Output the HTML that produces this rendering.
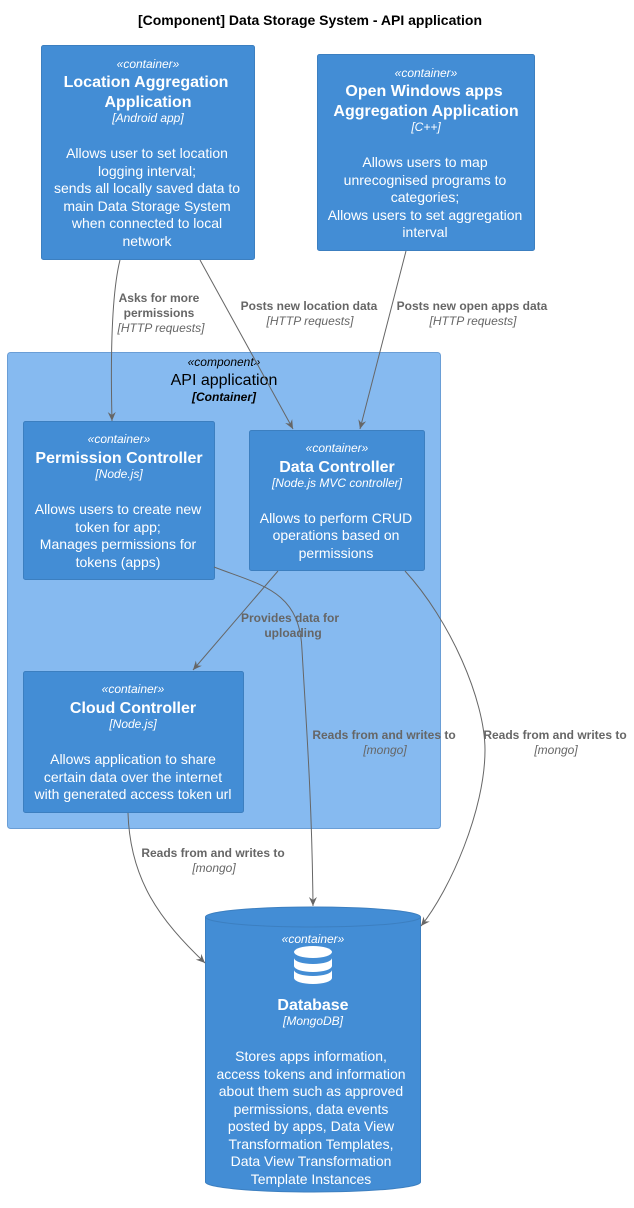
<!DOCTYPE html>
<html><head><meta charset="utf-8"><style>
html,body{margin:0;padding:0;background:#fff;}
svg{display:block;font-family:"Liberation Sans",sans-serif;}
.w{fill:#fff;text-anchor:middle;}
.st{font-size:12px;font-style:italic;}
.tt{font-size:16px;font-weight:bold;}
.tc{font-size:12px;font-style:italic;}
.d{font-size:14px;}
.lb{font-size:12px;font-weight:bold;fill:#666;text-anchor:middle;}
.li{font-size:12px;font-style:italic;fill:#666;text-anchor:middle;}
.box{fill:#438DD5;stroke:#3C7FC0;stroke-width:1;}
.ar{fill:none;stroke:#666;stroke-width:1;}
</style></head><body>
<svg width="634" height="1208" viewBox="0 0 634 1208" xmlns="http://www.w3.org/2000/svg">
<defs><marker id="a" markerWidth="10" markerHeight="10" refX="9" refY="5" orient="auto" markerUnits="userSpaceOnUse"><path d="M0,1 L9,5 L0,9 L3,5 Z" fill="#666"/></marker></defs>
<text x="310" y="25" text-anchor="middle" font-size="14" font-weight="bold">[Component] Data Storage System - API application</text>

<rect x="7.5" y="352.5" width="433" height="476" rx="3" fill="#86BAF0" stroke="#6A9ED6"/>
<text x="224" y="366" text-anchor="middle" class="st">«component»</text>
<text x="224" y="385" text-anchor="middle" font-size="16">API application</text>
<text x="224" y="401" text-anchor="middle" font-size="12" font-weight="bold" font-style="italic">[Container]</text>

<rect class="box" x="41.5" y="45.5" width="213" height="214" rx="2"/>
<g class="w"><text x="148" y="68" class="st">«container»</text>
<text x="146" y="87" class="tt">Location Aggregation</text><text x="148" y="107" class="tt">Application</text>
<text x="148" y="122" class="tc">[Android app]</text>
<text x="147" y="158" class="d">Allows user to set location</text><text x="147" y="176" class="d">logging interval;</text>
<text x="147" y="193" class="d">sends all locally saved data to</text><text x="147" y="211" class="d">main Data Storage System</text>
<text x="147" y="228" class="d">when connected to local</text><text x="147" y="246" class="d">network</text></g>

<rect class="box" x="317.5" y="54.5" width="217" height="196" rx="2"/>
<g class="w"><text x="426" y="77" class="st">«container»</text>
<text x="424" y="96" class="tt">Open Windows apps</text><text x="426" y="116" class="tt">Aggregation Application</text>
<text x="426" y="131" class="tc">[C++]</text>
<text x="425" y="167" class="d">Allows users to map</text><text x="425" y="185" class="d">unrecognised programs to</text>
<text x="425" y="202" class="d">categories;</text><text x="425" y="220" class="d">Allows users to set aggregation</text>
<text x="425" y="237" class="d">interval</text></g>

<rect class="box" x="23.5" y="421.5" width="191" height="158" rx="2"/>
<g class="w"><text x="119" y="443" class="st">«container»</text>
<text x="119" y="463" class="tt">Permission Controller</text>
<text x="119" y="478" class="tc">[Node.js]</text>
<text x="118" y="514" class="d">Allows users to create new</text><text x="118" y="532" class="d">token for app;</text>
<text x="118" y="549" class="d">Manages permissions for</text><text x="118" y="567" class="d">tokens (apps)</text></g>

<rect class="box" x="249.5" y="430.5" width="175" height="140" rx="2"/>
<g class="w"><text x="337" y="452" class="st">«container»</text>
<text x="337" y="472" class="tt">Data Controller</text>
<text x="337" y="487" class="tc">[Node.js MVC controller]</text>
<text x="336" y="523" class="d">Allows to perform CRUD</text><text x="336" y="540" class="d">operations based on</text>
<text x="336" y="558" class="d">permissions</text></g>

<rect class="box" x="23.5" y="671.5" width="220" height="141" rx="2"/>
<g class="w"><text x="133" y="693" class="st">«container»</text>
<text x="133" y="713" class="tt">Cloud Controller</text>
<text x="133" y="728" class="tc">[Node.js]</text>
<text x="133" y="764" class="d">Allows application to share</text><text x="133" y="782" class="d">certain data over the internet</text>
<text x="133" y="799" class="d">with generated access token url</text></g>

<path d="M205.5,917 L205.5,1182 A107.5,10 0 0 0 420.5,1182 L420.5,917" fill="#438DD5" stroke="#3C7FC0"/>
<ellipse cx="313" cy="917" rx="107.5" ry="10" fill="#438DD5" stroke="#3C7FC0"/>
<g fill="#fff">
<ellipse cx="313" cy="952" rx="19" ry="6"/>
<path d="M294,958 a19,6 0 0 0 38,0 v8 a19,6 0 0 1 -38,0 z"/>
<path d="M294,970 a19,6 0 0 0 38,0 v8 a19,6 0 0 1 -38,0 z"/>
</g>
<g class="w"><text x="313" y="943" class="st">«container»</text>
<text x="313" y="1010" class="tt">Database</text>
<text x="313" y="1025" class="tc">[MongoDB]</text>
<text x="311" y="1061" class="d">Stores apps information,</text><text x="311" y="1079" class="d">access tokens and information</text>
<text x="311" y="1096" class="d">about them such as approved</text><text x="311" y="1114" class="d">permissions, data events</text>
<text x="311" y="1131" class="d">posted by apps, Data View</text><text x="311" y="1149" class="d">Transformation Templates,</text>
<text x="311" y="1166" class="d">Data View Transformation</text><text x="311" y="1184" class="d">Template Instances</text></g>

<path class="ar" marker-end="url(#a)" d="M120,260 C110,300 111,380 112,421"/>
<path class="ar" marker-end="url(#a)" d="M200,260 L293,429"/>
<path class="ar" marker-end="url(#a)" d="M406,251 L360,429"/>
<path class="ar" marker-end="url(#a)" d="M278,571 L193,670"/>
<path class="ar" marker-end="url(#a)" d="M214,567 C260,585 300,590 302,650 C306,720 312,800 313,906"/>
<path class="ar" marker-end="url(#a)" d="M405,571 C450,620 485,700 485,750 C485,810 450,890 421,926"/>
<path class="ar" marker-end="url(#a)" d="M128,813 C130,880 160,920 205,963"/>

<text x="159" y="302" class="lb">Asks for more</text><text x="159" y="317" class="lb">permissions</text>
<text x="161" y="332" class="li">[HTTP requests]</text>
<text x="309" y="310" class="lb">Posts new location data</text><text x="310" y="325" class="li">[HTTP requests]</text>
<text x="472" y="310" class="lb">Posts new open apps data</text><text x="473" y="325" class="li">[HTTP requests]</text>
<text x="290" y="622" class="lb">Provides data for</text><text x="293" y="637" class="lb">uploading</text>
<text x="384" y="739" class="lb">Reads from and writes to</text><text x="385" y="754" class="li">[mongo]</text>
<text x="555" y="739" class="lb">Reads from and writes to</text><text x="556" y="754" class="li">[mongo]</text>
<text x="213" y="857" class="lb">Reads from and writes to</text><text x="214" y="872" class="li">[mongo]</text>
</svg>
</body></html>
